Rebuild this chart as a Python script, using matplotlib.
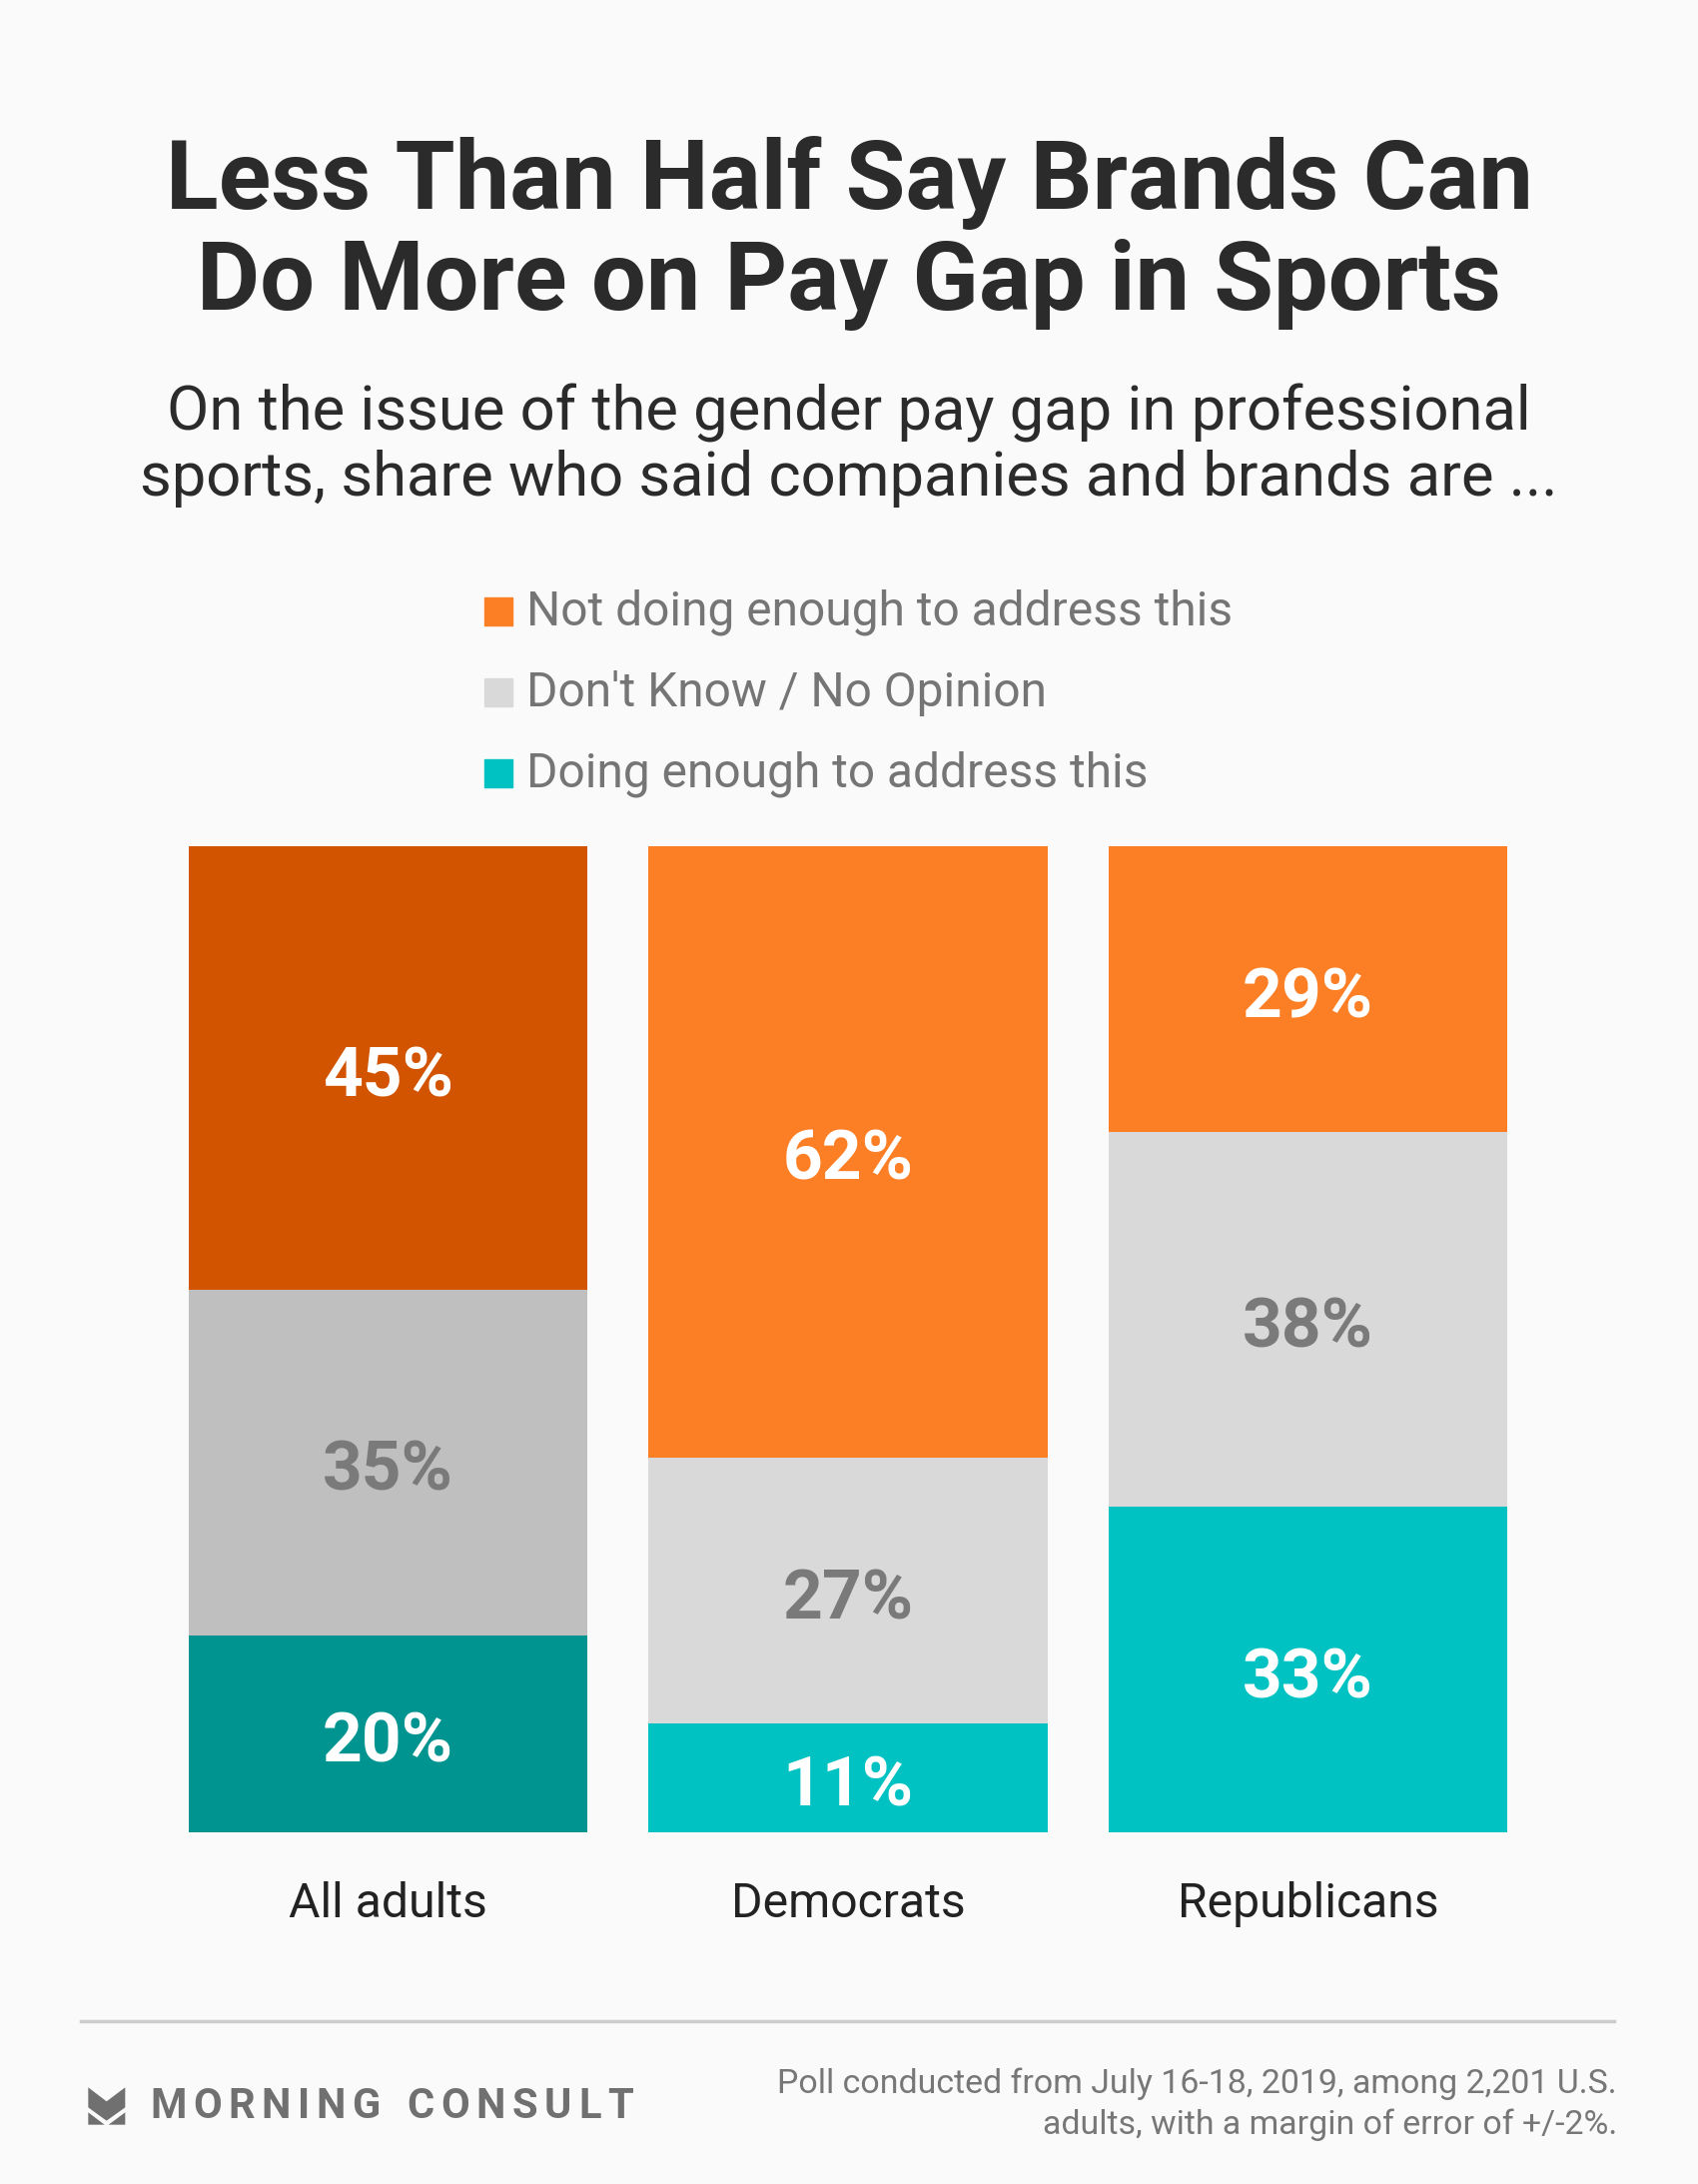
import matplotlib.pyplot as plt
from matplotlib.patches import Polygon
from matplotlib.lines import Line2D

plt.rcParams['font.family'] = ['Roboto', 'DejaVu Sans']

groups = ["All adults", "Democrats", "Republicans"]
not_enough = [45, 62, 29]
dont_know = [35, 27, 38]
doing_enough = [20, 11, 33]

legend_labels = ["Not doing enough to address this",
                 "Don't Know / No Opinion",
                 "Doing enough to address this"]

# first bar (all adults) uses darker shades
colors_not = ["#D35400", "#FC7F26", "#FC7F26"]
colors_dk = ["#BFBFBF", "#D9D9D9", "#D9D9D9"]
colors_do = ["#009490", "#00C2C2", "#00C2C2"]

W, H = 1700, 2186
bg = "#FAFAFA"
fig = plt.figure(figsize=(W / 100, H / 100), dpi=100, facecolor=bg)


def fx(px):
    return px / W


def fy(py):
    return 1 - py / H


# titles
fig.text(0.5, fy(183), "Less Than Half Say Brands Can", ha="center", va="center",
         fontsize=70, fontweight="bold", color="#2b2b2b")
fig.text(0.5, fy(285), "Do More on Pay Gap in Sports", ha="center", va="center",
         fontsize=70, fontweight="bold", color="#2b2b2b")
fig.text(0.5, fy(413), "On the issue of the gender pay gap in professional",
         ha="center", va="center", fontsize=44.3, color="#2b2b2b")
fig.text(0.5, fy(479), "sports, share who said companies and brands are ...",
         ha="center", va="center", fontsize=44.3, color="#2b2b2b")

# legend
leg_y = [613, 694, 775]
leg_cols = ["#FC7F26", "#D9D9D9", "#00C2C2"]
for yy, lab, c in zip(leg_y, legend_labels, leg_cols):
    fig.patches.append(plt.Rectangle((fx(485), fy(yy + 13)), fx(28), 28 / H,
                                     transform=fig.transFigure, color=c))
    fig.text(fx(527), fy(yy), lab, ha="left", va="center", fontsize=34.5,
             color="#757575")

# bars
ax = fig.add_axes([fx(189), fy(1834), fx(1509) - fx(189), (1834 - 847) / H])
ax.set_facecolor(bg)
x = list(range(len(groups)))
width = 399 / 460
ax.bar(x, doing_enough, width, color=colors_do)
ax.bar(x, dont_know, width, bottom=doing_enough, color=colors_dk)
bottom2 = [a + b for a, b in zip(doing_enough, dont_know)]
ax.bar(x, not_enough, width, bottom=bottom2, color=colors_not)
ax.set_xlim(-0.5 * width, 2 + 0.5 * width)
ax.set_ylim(0, 100)
ax.axis("off")

for i in x:
    ax.text(i, doing_enough[i] / 2 - 0.25, f"{doing_enough[i]}%", ha="center",
            va="center_baseline", fontsize=50, fontweight="bold", color="white")
    ax.text(i, doing_enough[i] + dont_know[i] / 2 - 0.25, f"{dont_know[i]}%",
            ha="center", va="center_baseline", fontsize=50, fontweight="bold",
            color="#7a7a7a")
    ax.text(i, bottom2[i] + not_enough[i] / 2 - 0.25, f"{not_enough[i]}%",
            ha="center", va="center_baseline", fontsize=50, fontweight="bold",
            color="white")
    ax.text(i, -7.3, groups[i], ha="center", va="center", fontsize=34.7,
            color="#222222", clip_on=False)

# footer
fig.add_artist(Line2D([fx(81), fx(1616)], [fy(2023), fy(2023)], color="#cccccc",
                      lw=2.5, transform=fig.transFigure))

logo_col = "#707070"
upper = [(55, 58), (110, 100), (166, 58), (166, 118), (110, 158), (55, 118)]
low_l = [(55, 133), (104, 170), (55, 170)]
low_r = [(166, 133), (116, 170), (166, 170)]
for shape in (upper, low_l, low_r):
    pts = [(fx(70 + a / 3), fy(2070 + b / 3)) for a, b in shape]
    fig.add_artist(Polygon(pts, closed=True, transform=fig.transFigure,
                           color=logo_col, lw=0))

# letter-spaced wordmark
word = "MORNING CONSULT"
renderer = fig.canvas.get_renderer()
chars = []
total = 0
for ch in word:
    t = fig.text(0, fy(2108), ch, ha="left", va="center", fontsize=30,
                 fontweight="bold", color=logo_col)
    w = t.get_window_extent(renderer).width if ch != " " else 14
    chars.append((t, w))
    total += w
start, end = 150, 634
track = (end - start - total) / (len(word) - 1)
pos = start
for t, w in chars:
    t.set_x(fx(pos))
    pos += w + track

fig.text(fx(1619), fy(2086), "Poll conducted from July 16-18, 2019, among 2,201 U.S.",
         ha="right", va="center", fontsize=24.4, color="#777777")
fig.text(fx(1619), fy(2127), "adults, with a margin of error of +/-2%.",
         ha="right", va="center", fontsize=24.4, color="#777777")

fig.savefig("out.png", dpi=100, facecolor=bg)
